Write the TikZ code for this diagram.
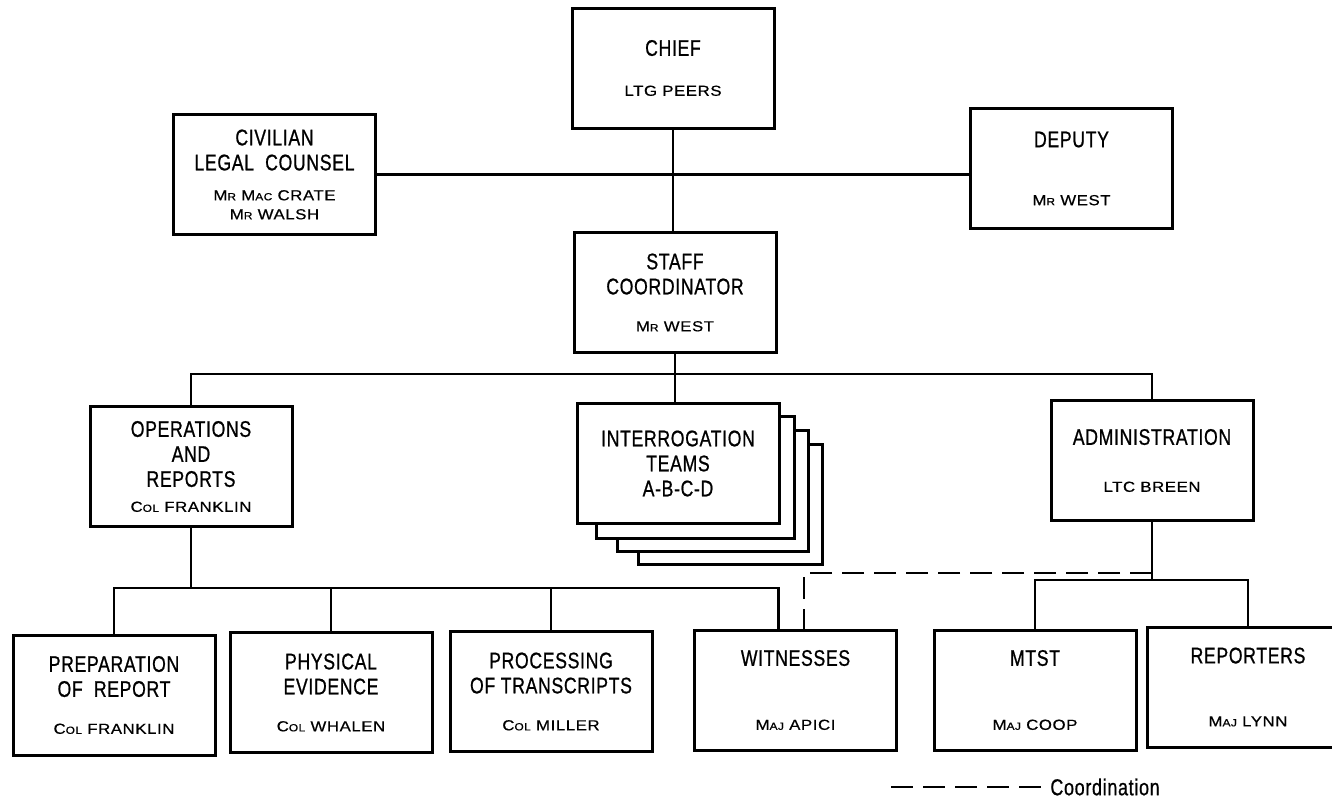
\documentclass[tikz,border=0pt]{standalone}
\usepackage{fontspec}
\setsansfont{Liberation Sans}
\newfontfamily\titlefont[FakeStretch=0.78,FakeBold=0.8,LetterSpace=3]{Liberation Sans}
\newfontfamily\namefont[FakeStretch=1.15,FakeBold=0.6,LetterSpace=4]{Liberation Sans}
\usetikzlibrary{backgrounds}
\newcommand\nm[1]{{\namefont\fontsize{7.3}{9.5}\selectfont #1}}
\newcommand\smc[1]{{\fontsize{5.2}{5}\selectfont #1}}

\begin{document}
\begin{tikzpicture}[x=0.5pt, y=-0.5pt,
    box/.style={draw, line width=1.5pt, fill=white, minimum width=101pt, minimum height=60pt,
      align=center, inner sep=0pt, font=\titlefont\fontsize{11.3}{12.5}\selectfont},
    link/.style={line width=1.3pt},
    coord/.style={line width=1.4pt, dash pattern=on 11pt off 5pt}]
  \useasboundingbox (0,0) rectangle (1332,800);
  \node[box] (chief) at (673,68) {CHIEF\\[7.5pt]\nm{LTG PEERS}};
  \node[box] (civil) at (274.5,174.5) {CIVILIAN\\LEGAL\ \ COUNSEL\\[2.5pt]\nm{M\smc{R} M\smc{AC} CRATE}\\[-3pt]\nm{M\smc{R} WALSH}};
  \node[box] (deputy) at (1071.5,168.5) {DEPUTY\\[16.5pt]\nm{M\smc{R} WEST}};
  \node[box] (staff) at (675,292.5) {STAFF\\COORDINATOR\\[6pt]\nm{M\smc{R} WEST}};
  \node[box] (ops) at (191,466.5) {OPERATIONS\\AND\\REPORTS\\\nm{C\smc{OL} FRANKLIN}};
  \node[box] (interr) at (678,463.5) {INTERROGATION\\TEAMS\\A-B-C-D};
  \node[box] (admin) at (1152,460.5) {ADMINISTRATION\\[11pt]\nm{LTC BREEN}};
  \node[box] (prep) at (114,695) {PREPARATION\\OF\ \ REPORT\\[6pt]\nm{C\smc{OL} FRANKLIN}};
  \node[box] (phys) at (331,692.5) {PHYSICAL\\EVIDENCE\\[6pt]\nm{C\smc{OL} WHALEN}};
  \node[box] (proc) at (551,691.5) {PROCESSING\\OF TRANSCRIPTS\\[6pt]\nm{C\smc{OL} MILLER}};
  \node[box] (witn) at (795.5,690) {WITNESSES\\[19.5pt]\nm{M\smc{AJ} APICI}};
  \node[box] (mtst) at (1035,690) {MTST\\[19.5pt]\nm{M\smc{AJ} COOP}};
  \node[box] (report) at (1248,687) {REPORTERS\\[19pt]\nm{M\smc{AJ} LYNN}};
  \begin{scope}[on background layer]
    \foreach \k in {3,2,1}
      \draw[line width=1.5pt, fill=white] ([shift={(21*\k,14*\k)}]interr.north west) rectangle ([shift={(14*\k,13*\k)}]interr.south east);
  \end{scope}
  \coordinate (topbus) at (673,374);
  \coordinate (opsbus) at (191,588);
  \coordinate (admbus) at (1152,580);
  \coordinate (dashturn) at (804,573);
  \coordinate (legstart) at (891,787);
  \draw[link] (chief.south) -- (chief.south |- staff.north);
  \draw[link] (civil.east) -- (civil.east -| deputy.west);
  \draw[link] (staff.south) -- (staff.south |- interr.north);
  \draw[link] (ops.north) |- (topbus) -| (admin.north);
  \draw[link] (ops.south) -- (opsbus);
  \draw[link] (prep.north) |- (opsbus) -| ([xshift=-8.5pt]witn.north);
  \draw[link] (phys.north) -- (phys.north |- opsbus);
  \draw[link] (proc.north) -- (proc.north |- opsbus);
  \draw[link] (admin.south) -- (admbus);
  \draw[link] (mtst.north) |- (admbus) -| (report.north);
  \draw[coord] (admin.south |- dashturn) -- (dashturn) -- (dashturn |- witn.north);
  \node[right, inner sep=2pt, font=\titlefont\fontsize{11.5}{13}\selectfont] (legend) at (1046,787) {Coordination};
  \draw[coord] (legstart) -- (legend.west);
\end{tikzpicture}
\end{document}
